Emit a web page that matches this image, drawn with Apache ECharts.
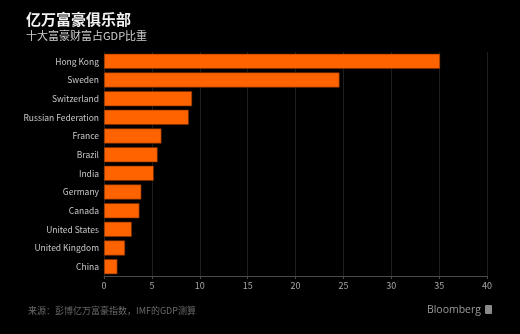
<!DOCTYPE html>
<html>
<head>
<meta charset="utf-8">
<script src="https://cdn.jsdelivr.net/npm/echarts@6/dist/echarts.min.js"></script>
<style>
  html, body { margin: 0; padding: 0; background: #000; }
  #chart { width: 520px; height: 334px; }
</style>
</head>
<body>
<div id="chart"></div>
<script>
// Countries, listed top to bottom
const countries = [
  'Hong Kong', 'Sweden', 'Switzerland', 'Russian Federation', 'France', 'Brazil',
  'India', 'Germany', 'Canada', 'United States', 'United Kingdom', 'China'
];
// Wealth of the ten richest people as % of GDP
const shareOfGdp = [35.1, 24.6, 9.2, 8.85, 6.0, 5.6, 5.2, 3.9, 3.7, 2.9, 2.2, 1.4];
const xTicks = [0, 5, 10, 15, 20, 25, 30, 35, 40];

const chart = echarts.init(document.getElementById('chart'), null, { renderer: 'canvas' });
const font = '"Noto Sans CJK SC", "Noto Sans", sans-serif';

chart.setOption({
  backgroundColor: '#000000',
  animation: false,
  title: [
    {
      text: '亿万富豪俱乐部',
      left: 21, top: 7,
      textStyle: { color: '#f2f2f2', fontSize: 15, fontWeight: 'bold', fontFamily: font }
    },
    {
      text: '十大富豪财富占GDP比重',
      left: 21, top: 25,
      textStyle: { color: '#d0d0d0', fontSize: 11, fontWeight: 'normal', fontFamily: font }
    },
    {
      text: '来源：彭博亿万富豪指数，IMF的GDP测算',
      left: 23, top: 301,
      textStyle: { color: '#6a6a6a', fontSize: 9, fontWeight: 'normal', fontFamily: font }
    }
  ],
  graphic: [
    {
      type: 'text',
      x: 481, y: 310,
      style: {
        text: 'Bloomberg',
        textAlign: 'right',
        textVerticalAlign: 'middle',
        fill: '#9a9a9a',
        fontSize: 10.5,
        fontFamily: '"Open Sans", sans-serif'
      }
    },
    {
      type: 'rect',
      shape: { x: 485, y: 305, width: 7, height: 9, r: 1 },
      style: { fill: '#8a8a8a' }
    }
  ],
  grid: { left: 104, right: 33, top: 52, bottom: 58, containLabel: false },
  xAxis: {
    type: 'value',
    min: xTicks[0],
    max: xTicks[xTicks.length - 1],
    interval: 5,
    axisLine: { show: true, lineStyle: { color: '#4a4a4a', width: 1 } },
    axisTick: { show: true, length: 3, lineStyle: { color: '#4a4a4a' } },
    axisLabel: { color: '#a8a8a8', fontSize: 9, margin: 5, fontFamily: font },
    splitLine: { show: true, lineStyle: { color: '#1e1e1e', width: 1 } }
  },
  yAxis: {
    type: 'category',
    data: countries,
    inverse: true,
    axisLine: { show: false },
    axisTick: { show: false },
    axisLabel: { color: '#c8c8c8', fontSize: 8.5, margin: 5, fontFamily: font }
  },
  series: [
    {
      type: 'bar',
      data: shareOfGdp,
      barCategoryGap: '19%',
      itemStyle: { color: '#ff6300', borderColor: '#7a2e00', borderWidth: 0.6 }
    }
  ]
});
</script>
</body>
</html>
